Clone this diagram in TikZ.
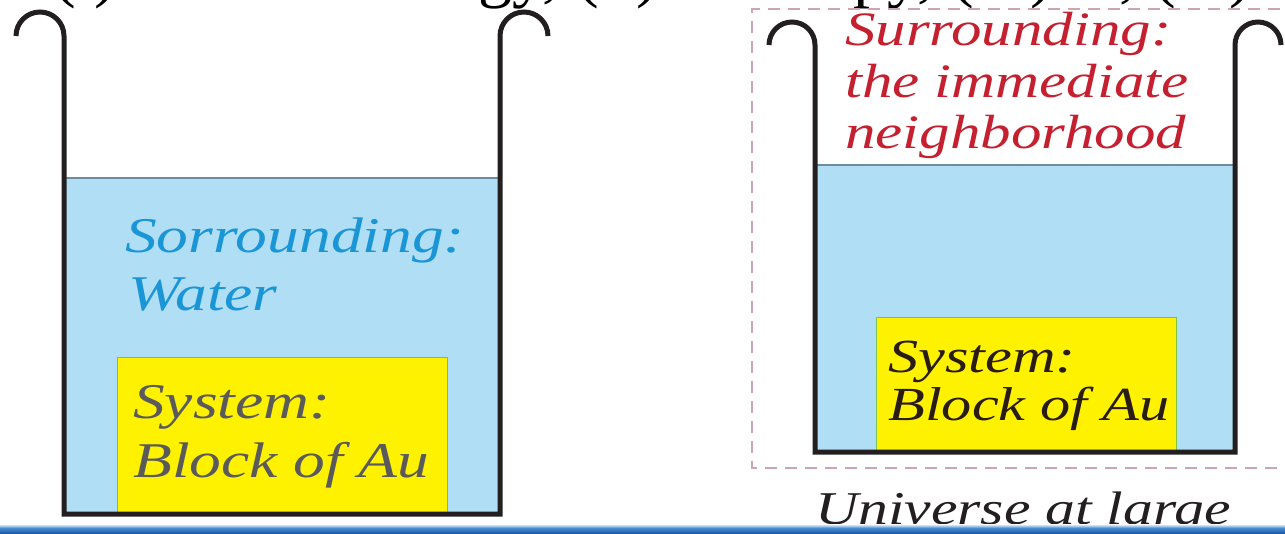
\documentclass[tikz,border=0pt]{standalone}
\usepackage{fontspec}
\setmainfont{Liberation Serif}
\newfontfamily\widefont[FakeStretch=1.27]{Liberation Serif}
\definecolor{beaker}{RGB}{35,31,32}
\definecolor{waterfill}{RGB}{176,222,245}
\definecolor{waterline}{RGB}{110,140,160}
\definecolor{blockfill}{RGB}{255,242,0}
\definecolor{blockline}{RGB}{125,194,75}
\definecolor{surrblue}{RGB}{26,150,214}
\definecolor{surrred}{RGB}{196,32,48}
\definecolor{sysgray}{RGB}{90,90,90}
\definecolor{sysdark}{RGB}{40,28,20}
\definecolor{dashcol}{RGB}{205,165,175}
\definecolor{barmid}{RGB}{70,140,210}
\definecolor{bardark}{RGB}{30,90,170}
\tikzset{
  wall/.style={draw=beaker, line width=5pt, line join=miter},
  water/.style={fill=waterfill},
  surface/.style={draw=waterline, line width=1.2pt},
  blockbox/.style={fill=blockfill, draw=blockline, line width=1pt},
  lbl/.style={inner sep=0pt, anchor=base west, font=\widefont\itshape\fontsize{#1}{#1}\selectfont},
  universe/.style={draw=dashcol, line width=1.3pt, dash pattern=on 12pt off 8pt},
}
\begin{document}
\begin{tikzpicture}[x=1pt,y=-1pt]
\useasboundingbox (0,0) rectangle (1285,533);

% clipped heading line at the top
\node[inner sep=0pt, anchor=base west, font=\fontsize{68}{68}\selectfont] (heading) at (53,-6)
  {(i) Internal energy, (ii) Enthalpy, (iii) U, (iv) H, (v) S};

% ---------- left beaker ----------
\fill[water] (64,178) rectangle (500,514);
\draw[surface] (64,178) -- (500,178);
\filldraw[blockbox] (117,357) rectangle (447,514);
\draw[wall] (16,36) arc[start angle=180, end angle=360, radius=24]
  -- (64,514) -- (500,514) -- (500,36)
  arc[start angle=180, end angle=360, radius=24];

\node[lbl=50, text=surrblue] (sorr) at (125,252) {Sorrounding:};
\node[lbl=50, text=surrblue] (water) at (128,310) {Water};
\node[lbl=50, text=sysgray] (sysL) at (133,418) {System:};
\node[lbl=50, text=sysgray] (blockL) at (133,477) {Block of Au};

% ---------- right beaker ----------
\draw[universe] (1300,9) -- (752,9) -- (752,468) -- (1300,468);
\fill[water] (815,165) rectangle (1235,452);
\draw[surface] (815,165) -- (1235,165);
\filldraw[blockbox] (876,317) rectangle (1176,452);
\draw[wall] (769,45) arc[start angle=180, end angle=360, radius=23]
  -- (815,452) -- (1235,452) -- (1235,45)
  arc[start angle=180, end angle=360, radius=23];

\node[lbl=48, text=surrred] (surr1) at (845,45) {Surrounding:};
\node[lbl=48, text=surrred] (surr2) at (845,97) {the immediate};
\node[lbl=48, text=surrred] (surr3) at (845,148) {neighborhood};
\node[lbl=47.5, text=sysdark] (sysR) at (888,372) {System:};
\node[lbl=47.5, text=sysdark] (blockR) at (888,420) {Block of Au};
\node[lbl=47, text=beaker] (univ) at (815,524) {Universe at large};

% ---------- bottom bar ----------
\shade[top color=white, bottom color=barmid] (0,524) rectangle (1285,528);
\shade[top color=barmid, bottom color=bardark] (0,528) rectangle (1285,533);
\end{tikzpicture}
\end{document}
